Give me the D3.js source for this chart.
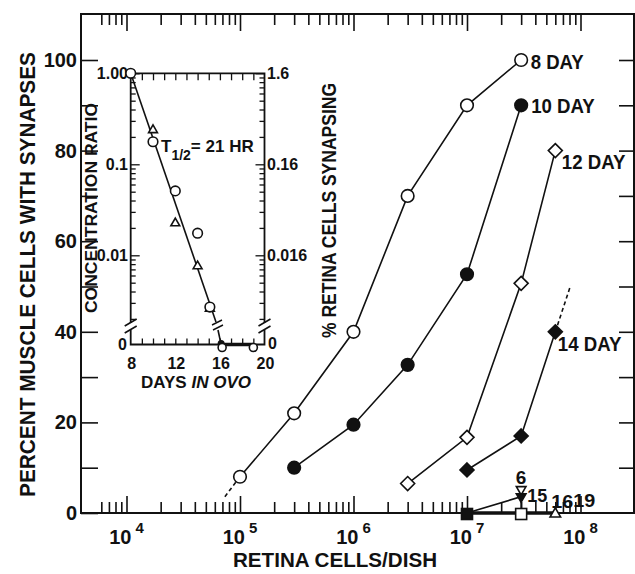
<!DOCTYPE html>
<html>
<head>
<meta charset="utf-8">
<script src="https://cdn.jsdelivr.net/npm/d3@7"></script>
<style>
  body { margin: 0; background: #fff; }
  svg { display: block; }
  text { font-family: "Liberation Sans", Arial, sans-serif; font-weight: bold; fill: #111; }
</style>
</head>
<body>
<svg id="chart" width="635" height="574"></svg>
<script>
// ---- main panel data (retina cells / dish vs % muscle cells with synapses)
const day8Cells = [1e5, 3e5, 1e6, 3e6, 1e7, 3e7]
const day8Pct = [8, 22, 40, 70, 90, 100]
const day10Cells = [3e5, 1e6, 3e6, 1e7, 3e7]
const day10Pct = [10, 19.5, 32.7, 52.7, 90]
const day12Cells = [3e6, 1e7, 3e7, 6e7]
const day12Pct = [6.5, 16.7, 50.7, 80]
const day14Cells = [1e7, 3e7, 6e7]
const day14Pct = [9.5, 17, 40]
const day8Extrap = [[1e5, 8], [7.3e4, 3.5]]
const day14Extrap = [[6e7, 40], [8.2e7, 50.3]]
// late embryos: almost no synapses
const day6Points = [[3e7, 5.2]]
const day15Points = [[1e7, 0], [3e7, 3.6], [3e7, 0]]
const day16Points = [[1e7, 0], [3e7, 0]]
const day19Points = [[6e7, 0]]
const lateBaseline = [[1e7, 0], [6e7, 0]]
const yTicks = [0, 20, 40, 60, 80, 100]
const xDecades = [1e4, 1e5, 1e6, 1e7, 1e8]
const xDecadeExp = ['4', '5', '6', '7', '8']

// ---- inset data (concentration ratio vs days in ovo)
const insetCircleDays = [8, 10, 12, 14, 15.1]
const insetCircleRatio = [1.0, 0.177, 0.051, 0.0175, 0.0027]
const insetTriDays = [10, 12, 14, 15.1]
const insetTriRatio = [0.238, 0.0225, 0.0076, 0.0026]
const insetZeroDays = [16.2, 19]
const insetFit = [[8, 1.0], [15.65, 0.00185]]
const insetLeftLabels = ['1.00', '0.1', '0.01']
const insetRightLabels = ['1.6', '0.16', '0.016']
const insetLabelValues = [1, 0.1, 0.01]
const insetDayTicks = [8, 12, 16, 20]

const svg = d3.select('#chart')
const frame = {left: 81, right: 634, top: 14, bottom: 513}
const x = d3.scaleLog().domain([1e4, 1e8]).range([126.5, 580.5])
const y = d3.scaleLinear().domain([0, 100]).range([513, 60])
const ink = '#111'

svg.append('rect').attr('width', 635).attr('height', 574).attr('fill', '#fff')

// frame
svg.append('path')
  .attr('d', `M${frame.left},${frame.top}H${frame.right}V${frame.bottom}H${frame.left}Z`)
  .attr('fill', 'none').attr('stroke', ink).attr('stroke-width', 2)

// log ticks on bottom and top
const minorX = []
for (let d = 3; d <= 7; d++) {
  for (let k = 2; k <= 9; k++) {
    const v = k * Math.pow(10, d)
    if (v >= 6e3) minorX.push(v)
  }
}
function tickAxis(axis, pos, size, values) {
  const g = svg.append('g').attr('transform', pos)
    .call(axis.tickValues(values).tickSize(size).tickFormat(''))
  g.select('.domain').remove()
  g.selectAll('line').attr('stroke', ink).attr('stroke-width', 1.6)
  return g
}
tickAxis(d3.axisBottom(x), `translate(0,${frame.bottom})`, -11, minorX)
tickAxis(d3.axisBottom(x), `translate(0,${frame.bottom})`, -17, xDecades)
tickAxis(d3.axisTop(x), `translate(0,${frame.top})`, -11, minorX)
tickAxis(d3.axisTop(x), `translate(0,${frame.top})`, -17, xDecades)
tickAxis(d3.axisLeft(y), `translate(${frame.left},0)`, -17, d3.range(0, 101, 10))
tickAxis(d3.axisRight(y), `translate(${frame.right},0)`, -15, d3.range(10, 101, 10))

// x labels: 10 with exponent
xDecades.forEach((v, i) => {
  svg.append('text').attr('x', x(v) + 5).attr('y', 544)
    .attr('text-anchor', 'end').style('font-size', '20px').text('10')
  svg.append('text').attr('x', x(v) + 9).attr('y', 533)
    .style('font-size', '15px').text(xDecadeExp[i])
})
// y labels
yTicks.forEach(v => {
  svg.append('text').attr('x', 77).attr('y', y(v) + 7)
    .attr('text-anchor', 'end').style('font-size', '20px').text(v)
})

// axis titles
svg.append('text')
  .attr('transform', 'translate(35,274.5) rotate(-90)')
  .attr('text-anchor', 'middle').style('font-size', '22px')
  .attr('textLength', 445).attr('lengthAdjust', 'spacingAndGlyphs')
  .text('PERCENT MUSCLE CELLS WITH SYNAPSES')
svg.append('text')
  .attr('transform', 'translate(336,210.5) rotate(-90)')
  .attr('text-anchor', 'middle').style('font-size', '21px')
  .attr('textLength', 255).attr('lengthAdjust', 'spacingAndGlyphs')
  .text('% RETINA CELLS SYNAPSING')
svg.append('text')
  .attr('x', 335).attr('y', 567)
  .attr('text-anchor', 'middle').style('font-size', '21px')
  .attr('textLength', 204).attr('lengthAdjust', 'spacingAndGlyphs')
  .text('RETINA CELLS/DISH')

// ---- curves
const line = d3.line().x(d => x(d[0])).y(d => y(d[1]))
const zip = (a, b) => a.map((v, i) => [v, b[i]])
const series = [
  {name: '8 DAY', pts: zip(day8Cells, day8Pct), shape: 'circle', filled: false},
  {name: '10 DAY', pts: zip(day10Cells, day10Pct), shape: 'circle', filled: true},
  {name: '12 DAY', pts: zip(day12Cells, day12Pct), shape: 'diamond', filled: false},
  {name: '14 DAY', pts: zip(day14Cells, day14Pct), shape: 'diamond', filled: true}
]
const labelOffset = {
  '8 DAY': [9.5, 1.5], '10 DAY': [10, 0], '12 DAY': [6.5, 11], '14 DAY': [2.5, 12]
}

const curves = svg.append('g').attr('fill', 'none').attr('stroke', ink).attr('stroke-width', 1.6)
series.forEach(s => curves.append('path').attr('d', line(s.pts)))
curves.append('path').attr('d', line(day8Extrap)).attr('stroke-dasharray', '4,3')
curves.append('path').attr('d', line(day14Extrap)).attr('stroke-dasharray', '4,3')
curves.append('path').attr('d', line(day15Points))
curves.append('path').attr('d', line(lateBaseline)).attr('stroke-width', 3.5)

function marker(g, shape, filled, px, py, r, angle) {
  let el
  if (shape === 'circle') {
    el = g.append('circle').attr('cx', px).attr('cy', py).attr('r', r)
  } else if (shape === 'diamond') {
    el = g.append('path').attr('d', `M${px},${py - r}L${px + r},${py}L${px},${py + r}L${px - r},${py}Z`)
  } else if (shape === 'square') {
    el = g.append('rect').attr('x', px - r).attr('y', py - r).attr('width', 2 * r).attr('height', 2 * r)
  } else {
    el = g.append('path').attr('d', d3.symbol(d3.symbolTriangle, r * r * 1.6)())
      .attr('transform', `translate(${px},${py}) rotate(${angle || 0})`)
  }
  el.attr('fill', filled ? ink : '#fff').attr('stroke', ink).attr('stroke-width', 1.6)
}

const marks = svg.append('g')
series.forEach(s => {
  s.pts.forEach(p => marker(marks, s.shape, s.filled, x(p[0]), y(p[1]), s.shape === 'circle' ? 6.3 : 7))
  const last = s.pts[s.pts.length - 1]
  const off = labelOffset[s.name]
  svg.append('text').attr('x', x(last[0]) + off[0]).attr('y', y(last[1]) + off[1] + 7.5)
    .style('font-size', '21px').attr('textLength', s.name.length * 10.6).attr('lengthAdjust', 'spacingAndGlyphs')
    .text(s.name)
})
day16Points.forEach(p => marker(marks, 'square', p[0] === 1e7, x(p[0]), y(p[1]) + 1, 5.5))
day19Points.forEach(p => marker(marks, 'triangle', false, x(p[0]), y(p[1]) + 1, 5.5))
day6Points.forEach(p => marker(marks, 'triangle', false, x(p[0]), y(p[1]), 5, 180))
marker(marks, 'triangle', true, x(day15Points[1][0]), y(day15Points[1][1]), 5, 180)

svg.append('text').attr('x', x(3e7)).attr('y', 484).attr('text-anchor', 'middle')
  .style('font-size', '19px').text('6')
svg.append('text').attr('x', x(3e7) + 6).attr('y', 502).style('font-size', '19px')
  .attr('textLength', 20).attr('lengthAdjust', 'spacingAndGlyphs').text('15')
svg.append('text').attr('x', x(6e7) - 4).attr('y', 508).style('font-size', '19px')
  .attr('textLength', 22).attr('lengthAdjust', 'spacingAndGlyphs').text('16')
svg.append('text').attr('x', x(6e7) + 18).attr('y', 507).style('font-size', '19px')
  .attr('textLength', 22).attr('lengthAdjust', 'spacingAndGlyphs').text('19')

// ---- inset
const ix = d3.scaleLinear().domain([8, 20]).range([130.7, 264.5])
const iy = d3.scaleLog().domain([1, 0.001]).range([73.3, 346.3])
const izero = 344.5
const brk = [323, 330]
const inset = svg.append('g')

inset.append('path')
  .attr('d', `M${ix(8)},${brk[0]}V${iy(1)}H${ix(20)}V${brk[0]}` +
    `M${ix(8)},${brk[1]}V${izero}H${ix(20)}V${brk[1]}`)
  .attr('fill', 'none').attr('stroke', ink).attr('stroke-width', 1.8)
// break marks
const brkMark = cx => `M${cx - 6},${brk[0] + 3}L${cx + 6},${brk[0] - 4}M${cx - 6},${brk[1] + 3}L${cx + 6},${brk[1] - 4}`
inset.append('path').attr('d', brkMark(ix(8)) + brkMark(ix(20)))
  .attr('stroke', ink).attr('stroke-width', 1.6).attr('fill', 'none')

const majorR = [1, 0.1, 0.01]
const minorR = []
for (let d = -1; d >= -3; d--) {
  for (let k = 2; k <= 9; k++) minorR.push(k * Math.pow(10, d))
}
function insetTicks(axis, pos, size, values) {
  const g = inset.append('g').attr('transform', pos)
    .call(axis.tickValues(values).tickSize(size).tickFormat(''))
  g.select('.domain').remove()
  g.selectAll('line').attr('stroke', ink).attr('stroke-width', 1.3)
}
insetTicks(d3.axisLeft(iy), `translate(${ix(8)},0)`, -9, majorR)
insetTicks(d3.axisLeft(iy), `translate(${ix(8)},0)`, -5, minorR)
insetTicks(d3.axisRight(iy), `translate(${ix(20)},0)`, -9, majorR)
insetTicks(d3.axisRight(iy), `translate(${ix(20)},0)`, -5, minorR)
insetTicks(d3.axisBottom(ix), `translate(0,${izero})`, -6, d3.range(9, 20))
insetTicks(d3.axisTop(ix), `translate(0,${iy(1)})`, -7, d3.range(9, 20))

insetLabelValues.forEach((v, i) => {
  inset.append('text').attr('x', 128).attr('y', iy(v) + 6).attr('text-anchor', 'end')
    .style('font-size', '16px').text(insetLeftLabels[i])
  inset.append('text').attr('x', 267).attr('y', iy(v) + 6)
    .style('font-size', '16px').text(insetRightLabels[i])
})
inset.append('text').attr('x', 127).attr('y', izero + 5).attr('text-anchor', 'end')
  .style('font-size', '16px').text('0')
inset.append('text').attr('x', 268).attr('y', izero + 4)
  .style('font-size', '16px').text('0')
insetDayTicks.forEach(v => {
  inset.append('text').attr('x', ix(v) + 1).attr('y', 369).attr('text-anchor', 'middle')
    .style('font-size', '16px').text(v)
})
const daysLbl = inset.append('text').attr('x', 196).attr('y', 388).attr('text-anchor', 'middle')
  .style('font-size', '17px')
daysLbl.append('tspan').text('DAYS ')
daysLbl.append('tspan').style('font-style', 'italic').text('IN OVO')
inset.append('text')
  .attr('transform', 'translate(97,208) rotate(-90)')
  .attr('text-anchor', 'middle').style('font-size', '17px')
  .attr('textLength', 210).attr('lengthAdjust', 'spacingAndGlyphs')
  .text('CONCENTRATION RATIO')
const half = inset.append('text').attr('x', 161).attr('y', 152).style('font-size', '17px')
half.append('tspan').text('T')
half.append('tspan').attr('dy', 8).style('font-size', '14px').text('1/2')
half.append('tspan').attr('dy', -8).text('= 21 HR')

// fit line with axis break
const iline = d3.line().x(d => ix(d[0])).y(d => iy(d[1]))
const fitEnd = insetFit[1]
inset.append('path').attr('d', iline(insetFit))
  .attr('fill', 'none').attr('stroke', ink).attr('stroke-width', 1.6)
inset.append('path')
  .attr('d', `M${ix(fitEnd[0]) + 2},${brk[1]}L${ix(insetZeroDays[0]) - 1},${izero}`)
  .attr('fill', 'none').attr('stroke', ink).attr('stroke-width', 1.6)
inset.append('path')
  .attr('d', `M${ix(fitEnd[0]) - 4},${brk[0] + 2}L${ix(fitEnd[0]) + 6},${brk[0] - 3}` +
    `M${ix(fitEnd[0]) - 3},${brk[1]}L${ix(fitEnd[0]) + 7},${brk[1] - 5}`)
  .attr('fill', 'none').attr('stroke', ink).attr('stroke-width', 1.4)
inset.append('path')
  .attr('d', `M${ix(insetZeroDays[0]) - 1},${izero}H${ix(insetZeroDays[1])}`)
  .attr('stroke', ink).attr('stroke-width', 3.5)

zip(insetTriDays, insetTriRatio).forEach(p => marker(inset, 'triangle', false, ix(p[0]), iy(p[1]), 4.6))
zip(insetCircleDays, insetCircleRatio).forEach(p => marker(inset, 'circle', false, ix(p[0]), iy(p[1]), 4.8))
inset.append('circle').attr('cx', ix(insetZeroDays[0]) - 1).attr('cy', izero - 1).attr('r', 3.5).attr('fill', ink)
insetZeroDays.forEach(d => marker(inset, 'circle', false, ix(d), izero + 3, 4))
</script>
</body>
</html>
